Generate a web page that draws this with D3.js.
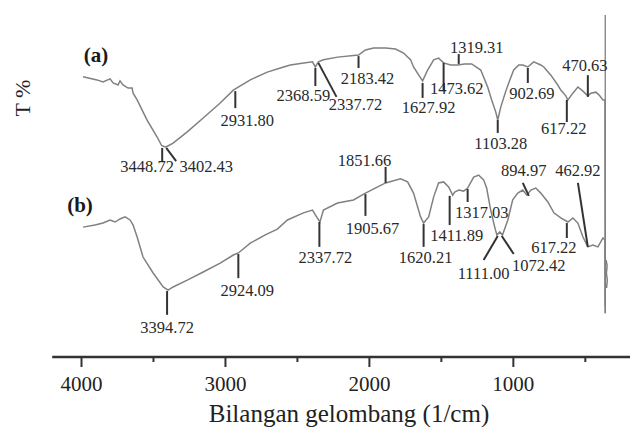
<!DOCTYPE html>
<meta charset="utf-8">
<head>
	<title>FTIR spectra</title>
</head>
<style>
body{
	margin: 0;
	background: #fff;
}
text{
	font-family: "Liberation Serif", "DejaVu Serif", serif;
}
.curve{
	fill: none;
	stroke: #808080;
	stroke-width: 1.5;
}
.lead{
	stroke: #333;
	stroke-width: 2;
}
.peak{
	font-size: 16.5px;
	fill: #2a2a2a;
}
.axis text{
	font-size: 21px;
	fill: #222;
}
.axis line{
	stroke: #333;
	stroke-width: 2;
}
</style>
<body>
<svg width="630" height="430"></svg>

<script src="https://cdnjs.cloudflare.com/ajax/libs/d3/7.8.5/d3.min.js"></script>
<script>

// spectrum (a): [wavenumber, T]
var spec_a = [[3986,77.4],[3889,76.5],[3847,75.9],[3798,76.8],[3777,75.6],[3743,75.0],[3729,76.2],
	[3708,75.0],[3673,74.1],[3645,74.1],[3638,72.6],[3610,70.6],[3541,64.7],[3471,59.7],[3440,57.2],
	[3415,56.8],[3400,57.0],[3360,57.9],[3262,61.2],[3151,65.3],[3033,69.7],[2942,73.5],[2824,76.5],
	[2706,78.8],[2615,80.0],[2546,80.9],[2476,81.3],[2392,81.8],[2372,80.3],[2351,81.8],[2316,82.4],
	[2218,83.2],[2072,83.8],[2024,85.3],[1968,85.9],[1884,85.9],[1815,85.6],[1759,84.4],[1710,82.4],
	[1690,80.3],[1641,77.1],[1627,76.2],[1592,79.4],[1550,82.4],[1516,82.9],[1481,81.5],[1432,80.9],
	[1383,80.9],[1335,81.2],[1286,81.2],[1223,79.4],[1175,74.4],[1147,70.6],[1119,67.1],[1105,64.7],
	[1084,68.5],[1049,73.2],[1021,76.5],[994,79.4],[959,80.9],[931,80.9],[896,80.3],[855,81.8],
	[806,80.9],[785,80.3],[736,77.9],[688,75.0],[667,73.5],[632,71.8],[618,70.6],[583,72.6],
	[548,74.4],[513,73.2],[479,71.8],[458,72.6],[423,72.9],[402,72.1],[374,70.6],[360,70.6],[358,10.0]];

// spectrum (b)
var spec_b = [[3986,33.2],[3903,33.8],[3847,34.4],[3798,35.3],[3763,34.7],[3729,35.6],[3694,36.2],
	[3659,35.3],[3638,33.8],[3610,30.3],[3569,24.4],[3499,19.7],[3429,15.6],[3395,14.7],[3360,15.6],
	[3262,17.6],[3151,20.0],[3033,22.6],[2942,25.0],[2907,25.6],[2824,28.5],[2720,30.9],[2636,32.6],
	[2566,35.3],[2455,37.4],[2392,38.2],[2372,36.8],[2340,34.7],[2316,38.2],[2218,40.3],[2107,41.2],
	[2024,43.2],[1884,46.2],[1780,47.4],[1731,46.5],[1690,43.2],[1641,36.2],[1620,34.4],[1585,36.2],
	[1550,42.1],[1516,46.2],[1481,46.5],[1446,45.0],[1418,42.6],[1404,43.5],[1376,44.1],[1342,43.8],
	[1314,44.7],[1272,47.9],[1237,48.5],[1203,47.1],[1182,44.7],[1154,38.2],[1126,33.2],[1111,30.9],
	[1091,31.8],[1072,30.9],[1035,35.3],[1001,41.2],[966,43.2],[931,44.1],[903,42.6],[875,44.1],
	[841,44.7],[806,43.2],[757,40.6],[715,37.4],[667,35.9],[617,34.7],[583,35.9],[548,34.4],
	[513,30.3],[479,27.4],[444,27.9],[409,27.4],[374,30.0],[360,29.4],[358,7.9]];

// little wiggle beside the right edge, bottom
var tail_b = [[352,23.5],[345,21.8],[350,19.7],[344,17.6],[349,15.3]];

// peak labels: [text, wn1, T1, wn2, T2, label wn, label T]
var peaks_a = [
	["3448.72", 3436,56.5, 3436,52.4, 3541,51.2],
	["3402.43", 3408,56.5, 3339,52.6, 3130,51.2],
	["2931.80", 2928,73.2, 2928,68.2, 2845,64.7],
	["2368.59", 2372,80.0, 2372,74.7, 2455,72.1],
	["2337.72", 2351,81.5, 2225,71.5, 2093,69.4],
	["2183.42", 2072,83.5, 2072,80.0, 2010,77.1],
	["1627.92", 1627,75.6, 1627,71.2, 1585,68.5],
	["1473.62", 1481,81.5, 1481,73.5, 1390,74.1],
	["1319.31", 1376,81.2, 1376,84.1, 1251,86.2],
	["1103.28", 1105,64.7, 1105,60.9, 1084,57.9],
	["902.69", 896,80.0, 896,75.6, 868,72.6],
	["617.22", 625,70.6, 625,64.1, 646,62.4],
	["470.63", 479,71.5, 479,77.9, 500,80.9]
];
var peaks_b = [
	["3394.72", 3402,14.4, 3402,7.4, 3402,3.8],
	["2924.09", 2907,25.3, 2907,18.2, 2845,14.7],
	["2337.72", 2344,34.7, 2344,27.4, 2302,24.4],
	["1905.67", 2024,42.9, 2024,36.5, 1975,32.9],
	["1851.66", 1884,46.2, 1884,50.9, 2031,52.9],
	["1620.21", 1620,34.1, 1620,27.4, 1606,24.4],
	["1411.89", 1439,42.4, 1439,33.8, 1390,30.9],
	["1317.03", 1314,44.4, 1314,40.6, 1216,37.6],
	["1111.00", 1105,30.6, 1203,23.5, 1203,19.7],
	["1072.42", 1077,30.6, 994,25.3, 820,22.1],
	["894.97", 889,42.4, 931,46.2, 924,50.0],
	["617.22", 625,34.4, 625,30.0, 715,27.4],
	["462.92", 479,27.4, 548,46.2, 548,50.0]
];

var series_names = ["(a)", "(b)"];
var name_pos = [[3896,83.8], [4007,39.7]];   // [wn, T]
var major_ticks = [4000, 3000, 2000, 1000];
var minor_ticks = [3500, 2500, 1500, 500];
var axis_extent = [4200, 180];
var edge = [358, 95.6, 7.9];   // right frame: wn, T top, T bottom

var svg = d3.select('svg');

var x = d3.scaleLinear().domain([4000, 0]).range([81, 656.8]);
var y = d3.scaleLinear().domain([0, 100]).range([340, 0]);
var axis_y = 357;

var line = d3.line()
	.x(function(d){ return x(d[0]); })
	.y(function(d){ return y(d[1]); });

// right edge of the original frame
svg.append('line')
	.attr('x1', x(edge[0])).attr('x2', x(edge[0]))
	.attr('y1', y(edge[1])).attr('y2', y(edge[2]))
	.attr('stroke', '#888').attr('stroke-width', 1.4);

svg.selectAll('path.curve')
	.data([spec_a, spec_b, tail_b])
	.enter()
	.append('path')
	.attr('class', 'curve')
	.attr('d', line);

function draw_peaks(list, cls){
	var g = svg.append('g').attr('class', cls);
	g.selectAll('line')
		.data(list)
		.enter()
		.append('line')
		.attr('class', 'lead')
		.attr('x1', function(d){ return x(d[1]); })
		.attr('y1', function(d){ return y(d[2]); })
		.attr('x2', function(d){ return x(d[3]); })
		.attr('y2', function(d){ return y(d[4]); });
	g.selectAll('text')
		.data(list)
		.enter()
		.append('text')
		.attr('class', 'peak')
		.attr('text-anchor', 'middle')
		.attr('x', function(d){ return x(d[5]); })
		.attr('y', function(d){ return y(d[6]); })
		.attr('dy', '0.35em')
		.text(function(d){ return d[0]; });
}
draw_peaks(peaks_a, 'peaks_a');
draw_peaks(peaks_b, 'peaks_b');

svg.selectAll('text.name')
	.data(series_names)
	.enter()
	.append('text')
	.attr('class', 'name')
	.attr('text-anchor', 'middle')
	.attr('x', function(d, i){ return x(name_pos[i][0]); })
	.attr('y', function(d, i){ return y(name_pos[i][1]); })
	.attr('dy', '0.35em')
	.style('font-size', '21px')
	.style('font-weight', 'bold')
	.style('fill', '#1a1a1a')
	.text(function(d){ return d; });

// x axis
var ax = svg.append('g')
	.attr('class', 'axis')
	.attr('transform', 'translate(0,' + axis_y + ')');
ax.call(d3.axisBottom(x).tickValues(major_ticks).tickSize(10).tickPadding(9).tickFormat(d3.format('d')));
ax.call(function(g){ g.select('.domain').remove(); });
ax.attr('font-family', null);
var ax2 = svg.append('g')
	.attr('class', 'axis')
	.attr('transform', 'translate(0,' + axis_y + ')');
ax2.call(d3.axisBottom(x).tickValues(minor_ticks).tickSize(5).tickFormat(''));
ax2.call(function(g){ g.select('.domain').remove(); });

svg.append('line')
	.attr('x1', x(axis_extent[0])).attr('x2', x(axis_extent[1]))
	.attr('y1', axis_y).attr('y2', axis_y)
	.attr('stroke', '#333').attr('stroke-width', 2.5);

svg.append('text')
	.attr('x', 349).attr('y', 422)
	.attr('text-anchor', 'middle')
	.style('font-size', '25px')
	.style('fill', '#222')
	.text('Bilangan gelombang (1/cm)');

svg.append('text')
	.attr('transform', 'translate(30,98) rotate(-90)')
	.attr('text-anchor', 'middle')
	.style('font-size', '22px')
	.style('fill', '#222')
	.text('T %');

</script>
</body>
</html>
